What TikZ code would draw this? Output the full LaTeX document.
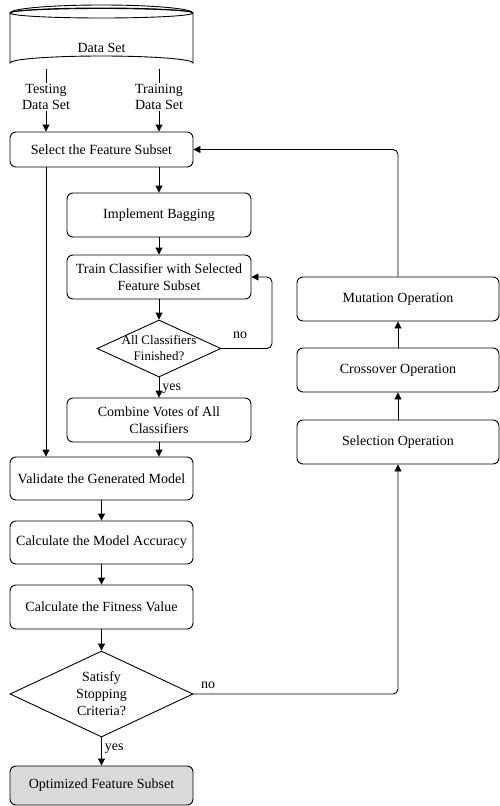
\documentclass[tikz,border=0pt]{standalone}
\usepackage{fontspec}
\setmainfont{Liberation Serif}
\usetikzlibrary{arrows.meta,shapes.geometric}
\begin{document}
\begin{tikzpicture}[x=1pt,y=-1pt,
  every node/.style={font=\fontsize{14}{17}\selectfont, align=center, inner sep=0pt},
  box/.style={draw, line width=0.9pt, rounded corners=6pt, minimum height=44, fill=white},
  lbox/.style={box, minimum width=183},
  rbox/.style={box, minimum width=184},
  obox/.style={box, minimum width=202},
  dia/.style={draw, diamond, line width=0.9pt, inner sep=0pt},
  lab/.style={font=\fontsize{14}{16}\selectfont},
  arr/.style={line width=0.9pt, -{Triangle[length=7pt,width=7pt]}},
  ln/.style={line width=0.9pt}
]
\useasboundingbox (0,0) rectangle (500,806);
% Data set cylinder
\begin{scope}[line width=0.9pt]
\draw[fill=white] (10,13) -- (10,63) arc[start angle=180,end angle=360,x radius=91.5,y radius=7] -- (193,13);
\draw (101.5,13) ellipse[x radius=91.5,y radius=5];
\draw (10,13) arc[start angle=180,end angle=360,x radius=91.5,y radius=4.5];
\draw (10,13) arc[start angle=180,end angle=360,x radius=91.5,y radius=8];
\end{scope}
\node (ds) at (101.5,48) {Data Set};
\coordinate (t1) at (46,68.5);
\coordinate (t2) at (159,68.5);

\node[lbox, minimum height=35] (sel) at (101.5,149.5) {Select the Feature Subset};
\node[rbox] (bag) at (159,215) {Implement Bagging};
\node[rbox] (train) at (159,277) {Train Classifier with Selected\\Feature Subset};
\node[dia, minimum width=124, minimum height=57] (d1) at (159,348.5) {};
\node[font=\fontsize{13}{16}\selectfont] at (d1) {All Classifiers\\Finished?};
\node[rbox] (comb) at (159,420) {Combine Votes of All\\Classifiers};
\node[lbox, minimum height=43] (val) at (101.5,478.5) {Validate the Generated Model};
\node[lbox, minimum height=43] (acc) at (101.5,542.5) {Calculate the Model Accuracy};
\node[lbox] (fit) at (101.5,607) {Calculate the Fitness Value};
\node[dia, minimum width=183, minimum height=86] (d2) at (101.5,694) {};
\node at (d2) {Satisfy\\Stopping\\Criteria?};
\node[lbox, minimum height=39, fill=black!15] (opt) at (101.5,785.5) {Optimized Feature Subset};

\node[obox] (mut) at (398,299) {Mutation Operation};
\node[obox] (cro) at (398,370) {Crossover Operation};
\node[obox] (seln) at (398,442) {Selection Operation};

% connectors
\draw[arr] (t1) -- (t1 |- sel.north);
\draw[arr] (t2) -- (t2 |- sel.north);
\node[lab, fill=white, inner sep=1pt] at (46,97) {Testing\\Data Set};
\node[lab, fill=white, inner sep=1pt] at (159,97) {Training\\Data Set};
\draw[arr] (sel.south -| bag) -- (bag.north);
\draw[arr] (sel.south -| t1) -- (val.north -| t1);
\draw[arr] (bag) -- (train);
\draw[arr] (train) -- (d1.north);
\draw[arr] (d1.south) -- (comb.north) node[lab, pos=0.55, right=3pt] {yes};
\draw[arr, rounded corners=5pt] (d1.east) -- (272,348.5) -- (272,277) -- (train.east);
\node[lab] at (240,335) {no};
\draw[arr] (comb.south) -- (val.north -| comb);
\draw[arr] (val) -- (acc);
\draw[arr] (acc) -- (fit);
\draw[arr] (fit) -- (d2.north);
\draw[arr] (d2.south) -- (opt.north) node[lab, pos=0.4, right=3pt] {yes};
\draw[arr, rounded corners=5pt] (d2.east) -- (d2.east -| seln) -- (seln.south);
\node[lab] at (208,685) {no};
\draw[arr] (seln) -- (cro);
\draw[arr] (cro) -- (mut);
\draw[arr, rounded corners=5pt] (mut.north) -- (mut.north |- sel.east) -- (sel.east);
\end{tikzpicture}
\end{document}
